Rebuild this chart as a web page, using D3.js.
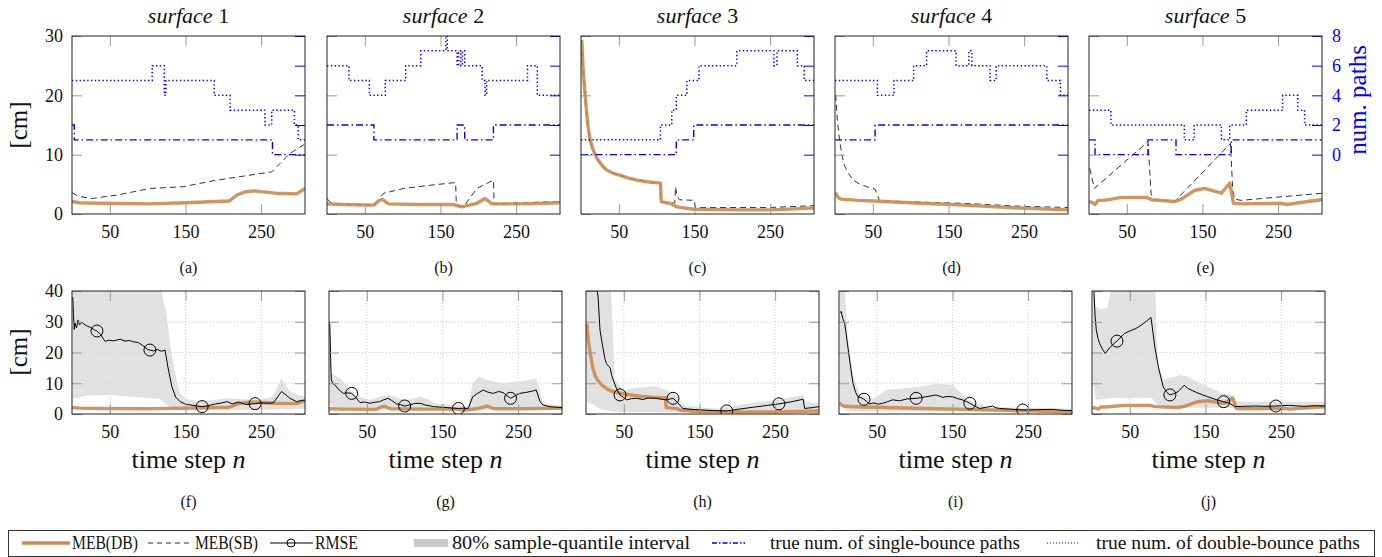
<!DOCTYPE html>
<html>
<head>
<meta charset="utf-8">
<script src="https://cdn.jsdelivr.net/npm/d3@7"></script>
<style>
body { margin: 0; background: #fff; }
svg text { font-family: "Liberation Serif", "DejaVu Serif", serif; fill: #111; }
</style>
</head>
<body>
<svg id="chart"></svg>
<script>
// ---- data ----
var nDomain = [0, 308];
var xTicks = [50, 150, 250];
var cmTicksTop = [0, 10, 20, 30];
var pathTicks = [0, 2, 4, 6, 8];
var cmTicksBottom = [0, 10, 20, 30, 40];
var surfaceNames = ["1", "2", "3", "4", "5"];
var topCaptions = ["(a)", "(b)", "(c)", "(d)", "(e)"];
var bottomCaptions = ["(f)", "(g)", "(h)", "(i)", "(j)"];

// MEB(DB) [n, cm]
var db1 = [[0,2.1],[10,1.9],[37,1.8],[100,1.7],[150,1.9],[208,2.2],[218,3.2],[228,3.7],[240,3.9],[262,3.6],[270,3.5],[297,3.4],[308,4.3]];
var db2 = [[0,1.7],[20,1.6],[62,1.5],[68,2.2],[73,2.5],[81,1.7],[120,1.6],[167,1.6],[178,1.2],[198,1.8],[209,2.6],[218,1.7],[260,1.7],[308,1.9]];
var db3 = [[1,29.3],[3,24],[6,19.2],[9,15],[12,12.5],[16,10.8],[21,9.4],[27,8.3],[34,7.4],[42,6.9],[52,6.5],[62,6.1],[74,5.7],[90,5.4],[105,5.2],[106,2.1],[112,1.9],[118,1.8],[127,1.2],[149,0.8],[207,0.7],[251,0.7],[308,1.0]];
var db4 = [[1,3.6],[4,2.8],[8,2.5],[30,2.3],[51,2.2],[113,1.8],[170,1.5],[245,1.0],[308,0.7]];
var db5 = [[0,2.1],[5,1.9],[8,1.6],[12,2.3],[20,2.3],[30,2.5],[43,2.8],[76,2.8],[83,2.4],[113,2.1],[122,2.5],[140,4.0],[153,4.3],[175,3.5],[186,5.2],[191,1.8],[201,1.7],[254,1.8],[262,1.6],[294,2.2],[308,2.4]];

// MEB(SB) [n, cm]
var sb1 = [[0,3.6],[8,3.0],[26,2.6],[60,3.2],[103,4.3],[147,4.6],[191,5.7],[264,7.1],[288,10.2],[308,11.8]];
var sb2 = [[0,2.6],[4,2.0],[9,1.8],[30,1.6],[62,1.5],[75,3.5],[101,4.3],[140,4.9],[170,5.3],[171,1.5],[181,1.3],[198,4.3],[220,5.7],[221,1.7],[260,1.9],[308,2.1]];
var sb3 = [[1,29.3],[3,24],[6,19.2],[9,15],[12,12.5],[16,10.8],[21,9.4],[27,8.3],[34,7.4],[42,6.9],[52,6.5],[62,6.1],[74,5.7],[90,5.4],[105,5.2],[106,2.1],[118,1.8],[124,1.9],[125,4.6],[127,3.0],[130,2.4],[150,2.3],[151,1.1],[250,1.1],[308,1.4]];
var sb4 = [[1,20.1],[3,16],[6,12.5],[9,10],[13,8.0],[18,6.8],[24,5.7],[32,5.1],[42,4.6],[53,4.2],[59,2.2],[113,2.0],[170,1.8],[245,1.3],[308,1.1]];
var sb5 = [[1,7.7],[7,4.3],[78,12.2],[82,3.5],[85,2.4],[113,2.1],[187,11.9],[190,4],[193,2.5],[201,2.3],[308,3.5]];

// true number of single-bounce paths [n, count] (step after)
var single1 = [[0,2],[3,1],[265,0],[308,0]];
var single2 = [[0,2],[62,1],[172,2],[182,1],[220,2],[308,2]];
var single3 = [[0,0],[126,1],[149,2],[308,2]];
var single4 = [[0,1],[53,2],[308,2]];
var single5 = [[0,1],[8,0],[78,1],[115,0],[188,1],[308,1]];

// true number of double-bounce paths [n, count] (step after)
var double1 = [[0,5],[106,6],[122,4],[124,5],[188,4],[209,3],[255,2],[264,3],[294,2],[299,1],[308,1]];
var double2 = [[0,6],[29,5],[56,4],[77,5],[104,6],[124,7],[157,8],[159,7],[172,6],[174,7],[177,6],[179,7],[182,6],[205,5],[209,4],[211,5],[265,6],[278,4],[308,4]];
var double3 = [[0,1],[105,2],[120,3],[126,4],[140,5],[156,6],[206,7],[255,6],[259,7],[286,6],[295,5],[308,5]];
var double4 = [[0,5],[56,4],[78,5],[104,6],[121,7],[160,6],[177,7],[181,6],[205,5],[213,6],[280,5],[298,4],[308,4]];
var double5 = [[0,3],[29,2],[126,1],[139,2],[175,1],[186,2],[208,3],[256,4],[276,3],[285,2],[308,2]];

// RMSE [n, cm]
var rmseF = [[1,38],[2,32],[3,27.5],[4,29.5],[6,28],[8,30.5],[10,29],[13,29.8],[16,29.2],[20,28.6],[25,28.1],[30,27.3],[33,27],[38,25.8],[42,24.2],[44,23.6],[48,24],[55,23.8],[60,24.1],[64,24.3],[70,23.7],[76,23.9],[81,23.5],[88,23.2],[95,22],[100,21],[103,20.8],[108,20.5],[113,21],[118,20.4],[123,20.8],[127,15],[132,8.9],[137,5.5],[143,4.0],[150,3.2],[160,2.8],[172,2.4],[180,2.7],[190,3.3],[198,3.6],[205,4.0],[212,3.3],[220,3.9],[230,3.1],[240,3.3],[250,3.6],[257,3.5],[266,3.6],[277,7.3],[283,6.2],[288,5.1],[297,4.0],[303,4.4],[308,4.5]];
var rmseG = [[1,29.5],[2,20],[3,11.1],[5,10],[8,9.4],[12,8.2],[16,7.3],[19,6.7],[24,6.9],[30,6.7],[35,5.5],[41,3.7],[47,3.9],[54,3.5],[60,3.8],[67,4.0],[72,4.6],[78,5.1],[83,4.4],[89,3.3],[95,3.0],[100,2.6],[106,2.9],[113,3.4],[120,3.5],[128,2.9],[138,2.4],[150,2.2],[160,2.0],[171,1.8],[178,1.9],[184,1.8],[190,5.6],[197,6.8],[204,7.8],[210,7.1],[217,6.7],[224,7.3],[230,7.0],[236,5.8],[240,5.1],[246,5.9],[252,6.7],[260,7.0],[268,7.4],[274,7.8],[279,4.0],[283,2.9],[292,2.4],[300,2.2],[308,2.1]];
var rmseH = [[12,45],[16,38],[18.5,27.3],[22,22],[25,18],[27,16.4],[30,15.5],[32,14.9],[34,12.5],[36,11.1],[40,8.5],[45,6.2],[50,5.3],[54,4.6],[60,5.0],[67,5.1],[75,4.7],[82,5.2],[93,5.1],[100,4.8],[106,4.6],[115,5.1],[120,4.0],[128,1.8],[140,1.5],[155,1.3],[170,1.1],[186,1.0],[200,1.5],[221,2.2],[240,2.8],[255,3.3],[270,3.9],[287,4.8],[289,1.8],[300,2.1],[308,2.4]];
var rmseI = [[1,33],[3,33.3],[5,31],[7.5,29.5],[10,25],[14,17.6],[18.5,10],[22,7],[25,5.6],[30,5.2],[33,4.8],[36,4.2],[40,3.3],[46,3.6],[52,3.2],[58,3.5],[64,4.0],[71,4.6],[80,4.3],[90,4.9],[102,5.1],[108,5.3],[115,5.6],[122,5.9],[128,6.2],[133,5.8],[137,5.4],[143,5.7],[150,5.6],[157,5.0],[163,4.6],[168,4.1],[173,3.5],[180,2.5],[186,1.8],[195,2.2],[203,2.6],[208,2.0],[212,1.8],[225,1.6],[243,1.3],[260,1.4],[283,1.5],[295,1.2],[308,1.1]];
var rmseJ = [[1,45],[2.6,40],[4,32],[5.7,27.3],[8,24.5],[10,23],[14,21],[17.6,19.7],[21,20.8],[25,22],[30,23.1],[33,23.7],[38,25],[43,26.2],[50,27],[58,27.8],[65,28.9],[72,30.2],[78,31.4],[83,21.9],[88,15],[94,8.9],[99,7],[103,6.2],[108,6.6],[114,7.3],[122,9.4],[126,8.4],[131,7.8],[140,6.8],[153,5.6],[164,4.7],[174,4.0],[182,3.4],[186,2.9],[188,2.4],[200,2.5],[215,2.6],[230,2.5],[243,2.6],[260,2.8],[280,2.5],[295,2.7],[308,2.6]];

// RMSE marker positions (n)
var marksF = [33, 103, 172, 242];
var marksG = [30, 100, 171, 240];
var marksH = [45, 115, 186, 255];
var marksI = [33, 102, 173, 243];
var marksJ = [33, 103, 174, 243];

// 80% sample-quantile interval [n, low, high]
var bandF = [[1,5,45],[20,6,45],[50,6.2,45],[80,5.5,45],[100,5.1,45],[116,5,45],[120,4,38],[125,3,32.7],[130,2,22],[134,1.8,16.4],[140,1.4,9],[143,1.2,6.7],[150,1.1,5],[167,1.1,4.0],[185,1.2,4.5],[205,1.2,5.1],[230,1.3,4.8],[249,1.4,4.6],[265,1.5,5.5],[277,1.6,11.6],[283,1.5,9],[288,1.5,7.3],[300,1.6,6],[308,1.7,5.6]];
var bandG = [[1,3,30],[3,2.5,13.2],[8,2.2,12.4],[15,2,11.6],[25,1.8,9],[33,1.6,6.2],[45,1.5,5.2],[55,1.5,4.6],[70,1.5,5.8],[80,1.6,6.2],[95,1.5,4.8],[105,1.4,4.6],[120,1.4,5.6],[130,1.3,4.8],[140,1.3,3.5],[160,1.2,3.0],[184,1.2,2.4],[190,1.3,10],[198,1.4,12.1],[210,1.4,11.0],[230,1.4,10],[250,1.4,10.6],[270,1.4,11.2],[274,1.4,11.6],[283,1.3,3.5],[308,1.3,2.6]];
var bandH = [[1,4,45],[10,3,45],[20,1.5,45],[32,1.0,45],[35,0.8,30],[38,0.7,11.1],[45,0.7,9],[50,0.6,7.8],[70,0.6,8.5],[90,0.6,9.1],[110,0.6,7.3],[120,0.5,6],[128,0.5,2.9],[150,0.5,2.2],[175,0.5,1.8],[200,0.6,2.8],[221,0.7,3.7],[250,0.8,4.5],[265,0.9,5.1],[287,1.0,6.2],[290,1.0,4],[308,1.0,3.5]];
var bandI = [[1,3.5,45],[7,2,45],[10,1.3,30],[12,1.1,25],[18,0.9,13.2],[27,0.8,6.7],[40,0.8,4.6],[50,0.8,5.5],[62,0.8,7.8],[80,0.8,8.2],[106,0.8,8.9],[120,0.8,9.5],[128,0.8,10],[150,0.8,9.4],[168,0.8,5.1],[180,0.8,3.5],[195,0.8,2.4],[240,0.8,2.0],[308,0.8,1.8]];
var bandJ = [[1,11,45],[3,8,38],[5,4.6,35],[12,4.8,34],[20,5.0,34.5],[25,5.1,40],[30,5.2,45],[50,5.1,45],[70,5.2,45],[78,5.4,45],[83,4,45],[87,2.5,16.4],[95,1.8,11.1],[110,1.9,12.1],[118,2.0,12.7],[126,2.0,12.1],[153,2.0,8.9],[170,2.0,7.0],[184,1.9,6.2],[190,1.7,4.0],[230,1.6,4.0],[308,1.5,4.0]];

var mebDB = [db1, db2, db3, db4, db5];
var mebSB = [sb1, sb2, sb3, sb4, sb5];
var singles = [single1, single2, single3, single4, single5];
var doubles = [double1, double2, double3, double4, double5];
var rmses = [rmseF, rmseG, rmseH, rmseI, rmseJ];
var marks = [marksF, marksG, marksH, marksI, marksJ];
var bands = [bandF, bandG, bandH, bandI, bandJ];

// ---- layout ----
var svgWidth = 1382, svgHeight = 557;
var panelW = 233;
var topLefts = [72, 327, 581, 835, 1089];
var bottomLefts = [72, 329, 586, 839, 1092];
var topY = 36, topH = 178;
var botY = 291, botH = 123;
var serif = "'Liberation Serif', 'DejaVu Serif', serif";

var orange = "#cc8a4e";
var blue = "#0000ff";
var tickGray = "#9a9a9a";

var svg = d3.select("#chart")
  .attr("width", svgWidth)
  .attr("height", svgHeight);

function valueAt(series, n) {
  var i = d3.bisector(d => d[0]).left(series, n);
  if (i <= 0) return series[0][1];
  if (i >= series.length) return series[series.length - 1][1];
  var a = series[i - 1], b = series[i];
  return a[1] + (b[1] - a[1]) * (n - a[0]) / (b[0] - a[0]);
}

function styleTicks(axisG, color) {
  axisG.attr("font-family", null).attr("font-size", null);
  axisG.select(".domain").remove();
  axisG.selectAll("line").attr("stroke", color);
  axisG.selectAll("text")
    .style("font-family", serif)
    .style("font-size", "18px")
    .attr("fill", color === blue ? blue : "#111")
    .style("fill", color === blue ? blue : "#111");
}

function addClip(id, w, h) {
  svg.append("clipPath").attr("id", id)
    .append("rect").attr("width", w).attr("height", h);
}

// ---- top row ----
function drawTop(i) {
  var g = svg.append("g").attr("transform", `translate(${topLefts[i]}, ${topY})`);
  var x = d3.scaleLinear().domain(nDomain).range([0, panelW]);
  var yCm = d3.scaleLinear().domain([0, 30]).range([topH, 0]);
  var yPaths = d3.scaleLinear().domain([-4, 8]).range([topH, 0]);

  addClip("clipT" + i, panelW, topH);
  var plot = g.append("g").attr("clip-path", `url(#clipT${i})`);

  var cmLine = d3.line().x(d => x(d[0])).y(d => yCm(d[1]));
  var stepLine = d3.line().curve(d3.curveStepAfter).x(d => x(d[0])).y(d => yPaths(d[1]));

  plot.append("path").datum(mebSB[i]).attr("d", cmLine)
    .attr("fill", "none").attr("stroke", "#333").attr("stroke-width", 1)
    .attr("stroke-dasharray", "6,4");
  plot.append("path").datum(mebDB[i]).attr("d", cmLine)
    .attr("fill", "none").attr("stroke", orange).attr("stroke-width", 3.4)
    .attr("stroke-opacity", 0.9).attr("stroke-linejoin", "round");
  plot.append("path").datum(singles[i]).attr("d", stepLine)
    .attr("fill", "none").attr("stroke", blue).attr("stroke-width", 1.4)
    .attr("stroke-dasharray", "7,3,1.5,3");
  plot.append("path").datum(doubles[i]).attr("d", stepLine)
    .attr("fill", "none").attr("stroke", blue).attr("stroke-width", 1.5)
    .attr("stroke-dasharray", "1.4,2.4");

  // inward ticks
  var xb = g.append("g").attr("transform", `translate(0, ${topH})`)
    .call(d3.axisBottom(x).tickValues(xTicks).tickSizeInner(-10).tickSizeOuter(0).tickPadding(11));
  styleTicks(xb, tickGray);
  var xt = g.append("g")
    .call(d3.axisTop(x).tickValues(xTicks).tickSizeInner(-10).tickSizeOuter(0).tickFormat(""));
  styleTicks(xt, tickGray);
  var yl = g.append("g")
    .call(d3.axisLeft(yCm).tickValues(cmTicksTop).tickSizeInner(-10).tickSizeOuter(0).tickPadding(9)
      .tickFormat(i === 0 ? d3.format("d") : ""));
  styleTicks(yl, tickGray);
  var yr = g.append("g").attr("transform", `translate(${panelW}, 0)`)
    .call(d3.axisRight(yPaths).tickValues(pathTicks).tickSizeInner(-10).tickSizeOuter(0).tickPadding(10)
      .tickFormat(i === 4 ? d3.format("d") : ""));
  styleTicks(yr, blue);

  g.append("rect").attr("width", panelW).attr("height", topH)
    .attr("fill", "none").attr("stroke", "#222").attr("stroke-width", 1);

  var title = g.append("text").attr("x", panelW / 2).attr("y", -13)
    .attr("text-anchor", "middle").style("font-size", "22px");
  title.append("tspan").style("font-style", "italic").text("surface");
  title.append("tspan").text(" " + surfaceNames[i]);

  g.append("text").attr("x", panelW / 2).attr("y", 237)
    .attr("text-anchor", "middle").style("font-size", "16px").text(topCaptions[i]);
}

// ---- bottom row ----
function drawBottom(i) {
  var g = svg.append("g").attr("transform", `translate(${bottomLefts[i]}, ${botY})`);
  var x = d3.scaleLinear().domain(nDomain).range([0, panelW]);
  var y = d3.scaleLinear().domain([0, 40]).range([botH, 0]);

  // dotted grid
  g.append("g").selectAll("line").data(xTicks).enter().append("line")
    .attr("x1", d => x(d)).attr("x2", d => x(d)).attr("y1", 0).attr("y2", botH)
    .attr("stroke", "#cfcfcf").attr("stroke-dasharray", "1,2");
  g.append("g").selectAll("line").data([10, 20, 30]).enter().append("line")
    .attr("y1", d => y(d)).attr("y2", d => y(d)).attr("x1", 0).attr("x2", panelW)
    .attr("stroke", "#cfcfcf").attr("stroke-dasharray", "1,2");

  addClip("clipB" + i, panelW, botH);
  var plot = g.append("g").attr("clip-path", `url(#clipB${i})`);

  var area = d3.area().x(d => x(d[0])).y0(d => y(d[1])).y1(d => y(d[2]));
  var line = d3.line().x(d => x(d[0])).y(d => y(d[1]));

  plot.append("path").datum(bands[i]).attr("d", area)
    .attr("fill", "#d9d9d9").attr("fill-opacity", 0.8);
  plot.append("path").datum(mebDB[i]).attr("d", line)
    .attr("fill", "none").attr("stroke", orange).attr("stroke-width", 3.4)
    .attr("stroke-opacity", 0.9).attr("stroke-linejoin", "round");
  plot.append("path").datum(rmses[i]).attr("d", line)
    .attr("fill", "none").attr("stroke", "#000").attr("stroke-width", 1);
  plot.selectAll("circle").data(marks[i]).enter().append("circle")
    .attr("cx", d => x(d)).attr("cy", d => y(valueAt(rmses[i], d)))
    .attr("r", 6).attr("fill", "none").attr("stroke", "#000").attr("stroke-width", 1);

  var xb = g.append("g").attr("transform", `translate(0, ${botH})`)
    .call(d3.axisBottom(x).tickValues(xTicks).tickSizeInner(-10).tickSizeOuter(0).tickPadding(11));
  styleTicks(xb, tickGray);
  var xt = g.append("g")
    .call(d3.axisTop(x).tickValues(xTicks).tickSizeInner(-10).tickSizeOuter(0).tickFormat(""));
  styleTicks(xt, tickGray);
  var yl = g.append("g")
    .call(d3.axisLeft(y).tickValues(cmTicksBottom).tickSizeInner(-10).tickSizeOuter(0).tickPadding(9)
      .tickFormat(i === 0 ? d3.format("d") : ""));
  styleTicks(yl, tickGray);
  var yr = g.append("g").attr("transform", `translate(${panelW}, 0)`)
    .call(d3.axisRight(y).tickValues(cmTicksBottom).tickSizeInner(-10).tickSizeOuter(0).tickFormat(""));
  styleTicks(yr, tickGray);

  g.append("rect").attr("width", panelW).attr("height", botH)
    .attr("fill", "none").attr("stroke", "#222").attr("stroke-width", 1);

  var xl = g.append("text").attr("x", panelW / 2).attr("y", 177)
    .attr("text-anchor", "middle").style("font-size", "26px");
  xl.append("tspan").text("time step ");
  xl.append("tspan").style("font-style", "italic").text("n");

  g.append("text").attr("x", panelW / 2).attr("y", 216)
    .attr("text-anchor", "middle").style("font-size", "16px").text(bottomCaptions[i]);
}

for (var k = 0; k < 5; k++) { drawTop(k); drawBottom(k); }

// axis titles
svg.append("text").attr("transform", "translate(27, 125) rotate(-90)")
  .attr("text-anchor", "middle").style("font-size", "25px").text("[cm]");
svg.append("text").attr("transform", "translate(27, 352) rotate(-90)")
  .attr("text-anchor", "middle").style("font-size", "25px").text("[cm]");
svg.append("text").attr("transform", "translate(1366, 100) rotate(-90)")
  .attr("text-anchor", "middle").style("font-size", "25px")
  .style("fill", blue).text("num. paths");

// ---- legend ----
var legend = svg.append("g");
legend.append("rect").attr("x", 8.5).attr("y", 530.5).attr("width", 1366).attr("height", 26)
  .attr("fill", "none").attr("stroke", "#333").attr("stroke-width", 1);
var ly = 543;
legend.append("line").attr("x1", 22).attr("x2", 70).attr("y1", ly).attr("y2", ly)
  .attr("stroke", orange).attr("stroke-width", 3.4);
legend.append("line").attr("x1", 148).attr("x2", 193).attr("y1", ly).attr("y2", ly)
  .attr("stroke", "#333").attr("stroke-dasharray", "5,4");
legend.append("line").attr("x1", 270).attr("x2", 313).attr("y1", ly).attr("y2", ly)
  .attr("stroke", "#000");
legend.append("circle").attr("cx", 291).attr("cy", ly).attr("r", 4)
  .attr("fill", "none").attr("stroke", "#000");
legend.append("rect").attr("x", 414).attr("y", ly - 4).attr("width", 34).attr("height", 8)
  .attr("fill", "#c8c8c8");
legend.append("line").attr("x1", 712).attr("x2", 745).attr("y1", ly).attr("y2", ly)
  .attr("stroke", blue).attr("stroke-width", 1.4).attr("stroke-dasharray", "5,2,1.5,2");
legend.append("line").attr("x1", 1047).attr("x2", 1080).attr("y1", ly).attr("y2", ly)
  .attr("stroke", blue).attr("stroke-width", 1.2).attr("stroke-dasharray", "1,2");

// [start x, span width, label]
var legendTexts = [[72, 66, "MEB(DB)"], [195, 63, "MEB(SB)"], [315, 43, "RMSE"],
  [452, 238, "80% sample-quantile interval"],
  [770, 250, "true num. of single-bounce paths"], [1096, 264, "true num. of double-bounce paths"]];
legend.selectAll("text.lg").data(legendTexts).enter().append("text")
  .attr("class", "lg").attr("x", d => d[0]).attr("y", ly + 6)
  .attr("textLength", d => d[1]).attr("lengthAdjust", "spacingAndGlyphs")
  .style("font-size", "18px").text(d => d[2]);
</script>
</body>
</html>
